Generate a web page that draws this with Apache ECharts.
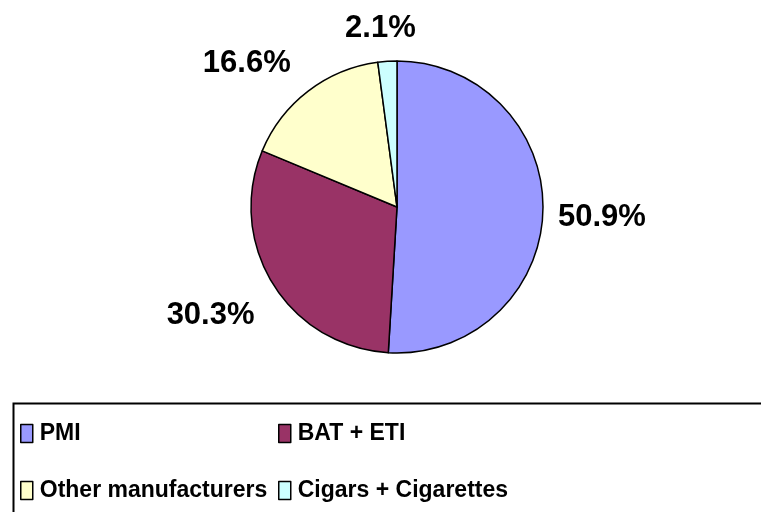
<!DOCTYPE html>
<html>
<head>
<meta charset="utf-8">
<script src="https://cdn.jsdelivr.net/npm/echarts@6/dist/echarts.min.js"></script>
<style>html,body{margin:0;padding:0;background:#fff}#c{width:761px;height:512px}</style>
</head>
<body>
<div id="c"></div>
<script>
const categories = ['PMI', 'BAT + ETI', 'Other manufacturers', 'Cigars + Cigarettes'];
const shares = [50.9, 30.3, 16.6, 2.1];
const colors = ['#9999FF', '#993366', '#FFFFCC', '#CCFFFF'];

const FONT = '"Liberation Sans", Arial, sans-serif';
const labelShift = [[1, 6], [-6, 26], [-7, -21], [34, -24]];
const legendPos = [[20, 422], [278, 422], [20, 479], [278, 479]];

const chart = echarts.init(document.getElementById('c'), null, {renderer: 'canvas'});

const legends = categories.map((name, i) => ({
  data: [name],
  left: legendPos[i][0],
  top: legendPos[i][1],
  padding: 0,
  icon: 'rect',
  itemWidth: 12,
  itemHeight: 18,
  selectedMode: false,
  itemStyle: {borderColor: '#000', borderWidth: 1.5},
  textStyle: {fontFamily: FONT, fontWeight: 'bold', fontSize: 23, color: '#000', lineHeight: 20, padding: [0, 0, 0, 2]}
}));

chart.setOption({
  animation: false,
  color: colors,
  legend: legends,
  graphic: [{
    type: 'rect', left: 11, top: 401,
    shape: {x: 0, y: 0, width: 800, height: 200},
    style: {fill: 'none', stroke: '#000', lineWidth: 2},
    silent: true
  }],
  series: [{
    type: 'pie',
    center: [397, 207],
    radius: 146,
    startAngle: 90,
    clockwise: true,
    avoidLabelOverlap: false,
    itemStyle: {borderColor: '#000', borderWidth: 1.5},
    emphasis: {disabled: true},
    label: {
      show: true,
      position: 'outside',
      formatter: p => p.value.toFixed(1) + '%',
      fontFamily: FONT, fontWeight: 'bold', fontSize: 31, color: '#000'
    },
    labelLine: {show: false, length: 9, length2: 0},
    labelLayout: p => ({dx: labelShift[p.dataIndex][0], dy: labelShift[p.dataIndex][1]}),
    data: categories.map((n, i) => ({name: n, value: shares[i]}))
  }]
});
</script>
</body>
</html>
